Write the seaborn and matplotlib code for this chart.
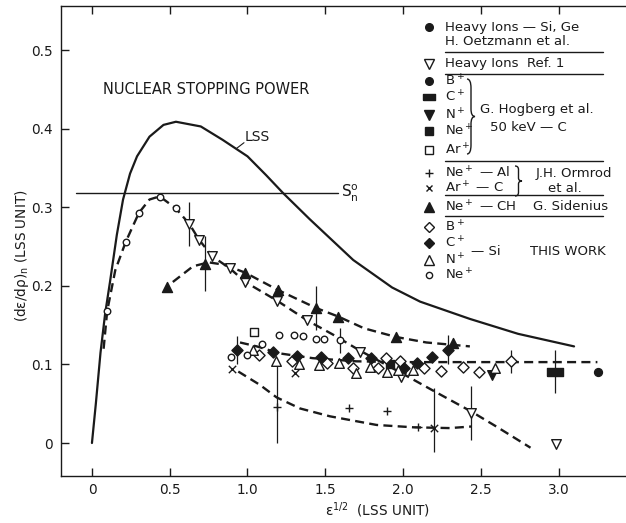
import numpy as np
import pandas as pd
import matplotlib
matplotlib.use("Agg")
import matplotlib.pyplot as plt
import seaborn as sns
from matplotlib.path import Path
from matplotlib.patches import PathPatch

# ---------------- data ----------------
# LSS theoretical nuclear stopping curve
lss_x = [0, 0.025, 0.055, 0.085, 0.116, 0.16, 0.2, 0.245, 0.29, 0.37, 0.46, 0.54, 0.70, 0.84,
         1.0, 1.12, 1.23, 1.40, 1.68, 1.93, 2.11, 2.43, 2.74, 3.10]
lss_y = [0, 0.05, 0.115, 0.165, 0.205, 0.265, 0.31, 0.343, 0.365, 0.39, 0.405, 0.409, 0.403, 0.386,
         0.365, 0.341, 0.318, 0.285, 0.233, 0.198, 0.18, 0.158, 0.139, 0.123]
sn0_value = 0.318
sn0_x = [-0.10, 1.58]

# dashed guide curves
guide1_x = [0.075, 0.098, 0.15, 0.217, 0.302, 0.37, 0.435, 0.538, 0.626, 0.688, 0.772, 0.889, 0.986,
            1.192, 1.385, 1.55, 1.72, 1.85, 2.0, 2.2, 2.44, 2.6, 2.82]
guide1_y = [0.12, 0.168, 0.22, 0.256, 0.293, 0.31, 0.314, 0.299, 0.279, 0.259, 0.238, 0.222, 0.205,
            0.181, 0.156, 0.138, 0.118, 0.104, 0.088, 0.066, 0.04, 0.021, -0.006]
guide2_x = [0.52, 0.65, 0.75, 0.85, 0.984, 1.194, 1.44, 1.584, 1.75, 1.955, 2.15, 2.43]
guide2_y = [0.205, 0.225, 0.23, 0.227, 0.217, 0.195, 0.172, 0.161, 0.146, 0.135, 0.128, 0.123]
guide3_x = [0.952, 1.06, 1.21, 1.42, 1.7, 2.0, 3.25]
guide3_y = [0.128, 0.123, 0.114, 0.108, 0.104, 0.103, 0.103]
guide4_x = [0.941, 1.08, 1.188, 1.338, 1.53, 1.83, 2.066, 2.30, 2.44]
guide4_y = [0.091, 0.074, 0.058, 0.044, 0.034, 0.023, 0.020, 0.019, 0.021]

# Heavy ions Si, Ge (Oetzmann et al.)
oetz_x = [3.252]
oetz_y = [0.090]
# Heavy ions Ref. 1
ref1_x = [0.626, 0.688, 0.772, 0.889, 0.986, 1.192, 1.385, 1.723, 1.985, 2.435, 2.982]
ref1_y = [0.279, 0.259, 0.238, 0.223, 0.205, 0.181, 0.156, 0.116, 0.084, 0.038, -0.001]
ref1_err = [0.028, 0, 0, 0, 0, 0, 0, 0, 0, 0.034, 0]
# Hogberg et al. 50 keV - C
hog_c_x, hog_c_y, hog_c_err = [2.977], [0.091], [0.027]
hog_n_x, hog_n_y = [2.574], [0.087]
hog_ne_x, hog_ne_y = [1.916], [0.101]
hog_ar_x, hog_ar_y = [1.044], [0.141]
# Ormrod et al.
orm_ne_x = [1.19, 1.655, 1.899, 2.099]
orm_ne_y = [0.046, 0.044, 0.041, 0.020]
orm_ne_err_lo = [0.046, 0, 0, 0]
orm_ne_err_hi = [0.054, 0, 0, 0]
orm_ar_x = [0.898, 1.305, 2.199]
orm_ar_y = [0.094, 0.089, 0.019]
orm_ar_err_lo = [0, 0, 0.030]
orm_ar_err_hi = [0, 0, 0.051]
# Sidenius Ne+ - CH
sid_x = [0.484, 0.727, 0.984, 1.194, 1.440, 1.584, 1.955, 2.324]
sid_y = [0.198, 0.228, 0.217, 0.195, 0.172, 0.161, 0.135, 0.127]
sid_err = [0, 0.035, 0, 0, 0.028, 0, 0, 0]
# This work (Si)
tw_b_x = [1.072, 1.288, 1.509, 1.677, 1.842, 1.889, 1.981, 2.135, 2.244, 2.388, 2.491, 2.695]
tw_b_y = [0.112, 0.104, 0.102, 0.096, 0.095, 0.108, 0.104, 0.096, 0.092, 0.097, 0.091, 0.104]
tw_b_err = [0, 0, 0, 0, 0, 0, 0, 0, 0, 0, 0, 0.015]
tw_c_x = [0.934, 1.162, 1.320, 1.475, 1.644, 1.792, 2.006, 2.088, 2.185, 2.291]
tw_c_y = [0.118, 0.116, 0.111, 0.110, 0.108, 0.108, 0.096, 0.102, 0.109, 0.119]
tw_c_err = [0.018, 0, 0, 0, 0, 0, 0, 0, 0, 0.018]
tw_n_x = [1.037, 1.183, 1.333, 1.460, 1.588, 1.695, 1.786, 1.895, 1.967, 2.066, 2.592]
tw_n_y = [0.118, 0.104, 0.101, 0.099, 0.102, 0.089, 0.097, 0.091, 0.093, 0.093, 0.096]
tw_ne_x = [0.098, 0.217, 0.302, 0.435, 0.538, 0.896, 0.995, 1.093, 1.201, 1.299, 1.359, 1.441, 1.492, 1.593]
tw_ne_y = [0.168, 0.256, 0.293, 0.313, 0.299, 0.109, 0.112, 0.126, 0.137, 0.138, 0.136, 0.132, 0.132, 0.131]
tw_ne_err = [0, 0, 0, 0, 0, 0, 0, 0, 0, 0, 0, 0, 0, 0.016]

x_ticks = [0, 0.5, 1.0, 1.5, 2.0, 2.5, 3.0]
x_tick_labels = ["0", "0.5", "1.0", "1.5", "2.0", "2.5", "3.0"]
y_ticks = [0, 0.1, 0.2, 0.3, 0.4, 0.5]
y_tick_labels = ["0", "0.1", "0.2", "0.3", "0.4", "0.5"]

# ---------------- figure ----------------
sns.set_style("ticks")
plt.rcParams["font.family"] = ["DejaVu Sans"]
plt.rcParams["lines.scale_dashes"] = False
INK = "#1a1a1a"

W, H = 626, 523
fig = plt.figure(figsize=(W / 100, H / 100), dpi=100)
fig.patch.set_facecolor("white")
L, R, T, B = 61, 626, 5.5, 476
ax = fig.add_axes([L / W, 1 - B / H, (R - L) / W, (B - T) / H])
ax.set_xlim(-0.199, 3.434)
ax.set_ylim(-0.042, 0.557)

def P(x, y):
    return (x / W, 1 - y / H)

DASH = (0, (6.5, 3.8))

# curves
sns.lineplot(x=lss_x, y=lss_y, ax=ax, sort=False, estimator=None, color=INK, linewidth=1.6)
sns.lineplot(x=sn0_x, y=[sn0_value, sn0_value], ax=ax, sort=False, estimator=None, color=INK, linewidth=1.0)
for gx, gy in [(guide1_x, guide1_y), (guide2_x, guide2_y), (guide3_x, guide3_y), (guide4_x, guide4_y)]:
    sns.lineplot(x=gx, y=gy, ax=ax, sort=False, estimator=None, color=INK, linewidth=1.7, linestyle=DASH)

# error bars
def ebars(xs, ys, lo, hi=None):
    hi = lo if hi is None else hi
    for x, y, a, b in zip(xs, ys, lo, hi):
        if a > 0 or b > 0:
            ax.errorbar([x], [y], yerr=[[a], [b]], fmt="none", ecolor=INK, elinewidth=0.9, capsize=0, zorder=2)

ebars(ref1_x, ref1_y, ref1_err)
ebars(hog_c_x, hog_c_y, hog_c_err)
ebars(orm_ne_x, orm_ne_y, orm_ne_err_lo, orm_ne_err_hi)
ebars(orm_ar_x, orm_ar_y, orm_ar_err_lo, orm_ar_err_hi)
ebars(sid_x, sid_y, sid_err)
ebars(tw_b_x, tw_b_y, tw_b_err)
ebars(tw_c_x, tw_c_y, tw_c_err)
ebars(tw_ne_x, tw_ne_y, tw_ne_err)

RECT = [(-1, -0.5), (1, -0.5), (1, 0.5), (-1, 0.5), (-1, -0.5)]

def pts(xs, ys, marker, s, filled, lw=1.0):
    if marker in ("+", "x"):
        sns.scatterplot(x=xs, y=ys, ax=ax, marker=marker, s=s, color=INK, linewidth=lw, zorder=4)
    else:
        sns.scatterplot(x=xs, y=ys, ax=ax, marker=marker, s=s,
                        color=INK if filled else "white", edgecolor=INK, linewidth=lw, zorder=4)

pts(oetz_x, oetz_y, "o", 32, True)
pts(ref1_x, ref1_y, "v", 48, False)
pts(hog_c_x, hog_c_y, RECT, 130, True)
pts(hog_n_x, hog_n_y, "v", 48, True)
pts(hog_ne_x, hog_ne_y, "s", 34, True)
pts(hog_ar_x, hog_ar_y, "s", 34, False)
pts(orm_ne_x, orm_ne_y, "+", 36, False)
pts(orm_ar_x, orm_ar_y, "x", 28, False)
pts(sid_x, sid_y, "^", 52, True)
pts(tw_b_x, tw_b_y, "D", 32, False)
pts(tw_c_x, tw_c_y, "D", 32, True)
pts(tw_n_x, tw_n_y, "^", 48, False)
pts(tw_ne_x, tw_ne_y, "o", 22, False)

# axes styling
ax.set_xticks(x_ticks)
ax.set_xticklabels(x_tick_labels)
ax.set_yticks(y_ticks)
ax.set_yticklabels(y_tick_labels)
ax.tick_params(axis="x", direction="in", top=True, bottom=True, length=6, width=1.0,
               color=INK, labelsize=9.8, labelcolor=INK, pad=5)
ax.tick_params(axis="y", direction="in", left=True, right=False, length=5.5, width=1.0,
               color=INK, labelsize=9.8, labelcolor=INK, pad=6)
for side in ["left", "bottom", "top"]:
    ax.spines[side].set_linewidth(1.0)
    ax.spines[side].set_color(INK)
ax.spines["right"].set_visible(False)
ax.set_xlabel("")
ax.set_ylabel("")

# axis labels
fig.text(*P(22, 256), "(dɛ/dρ)$_\\mathregular{n}$ (LSS UNIT)", rotation=90, ha="center", va="center",
         fontsize=9.8, color=INK)
fig.text(*P(377, 510), "ɛ$^\\mathregular{1/2}$  (LSS UNIT)", ha="center", va="center", fontsize=9.8, color=INK)

# annotations
fig.text(*P(103, 90), "NUCLEAR STOPPING POWER", ha="left", va="center", fontsize=10.5, color=INK)
fig.text(*P(245, 137), "LSS", ha="left", va="center", fontsize=10, color=INK)
fig.add_artist(plt.Line2D([236.7 / W, 244 / W], [1 - 148.3 / H, 1 - 142.7 / H], color=INK, lw=0.8))
fig.text(*P(341, 193), "S$^\\mathregular{o}_\\mathregular{n}$", ha="left", va="center", fontsize=11, color=INK)

# legend (drawn as part of the figure)
def mk(x, y, marker, ms, filled, lw=1.0):
    fx, fy = P(x, y)
    ax.plot([fx], [fy], marker=marker, ms=ms, transform=fig.transFigure, clip_on=False,
            color=INK, mfc=INK if filled else "white", mec=INK, mew=lw, linestyle="none")

def tx(x, y, s, size=9.5):
    fig.text(*P(x, y), s, ha="left", va="center", fontsize=size, color=INK)

def hline(y, x0=445, x1=603):
    fig.add_artist(plt.Line2D([x0 / W, x1 / W], [1 - y / H, 1 - y / H], color=INK, lw=1.0))

def brace(x, y0, y1, w):
    ym = (y0 + y1) / 2
    h = y1 - y0
    q = w / 2
    verts = [(x, y0), (x + q, y0), (x + q, y0 + 0.12 * h),
             (x + q, ym - 0.1 * h), (x + q, ym), (x + w, ym),
             (x + q, ym), (x + q, ym + 0.1 * h),
             (x + q, y1 - 0.12 * h), (x + q, y1), (x, y1)]
    codes = [Path.MOVETO, Path.CURVE3, Path.CURVE3,
             Path.LINETO, Path.CURVE3, Path.CURVE3,
             Path.CURVE3, Path.CURVE3,
             Path.LINETO, Path.CURVE3, Path.CURVE3]
    fverts = [P(vx, vy) for vx, vy in verts]
    patch = PathPatch(Path(fverts, codes), transform=fig.transFigure, fill=False, ec=INK, lw=1.0)
    fig.add_artist(patch)

MX = 429
mk(MX, 27.3, "o", 5.5, True)
tx(445, 27.3, "Heavy Ions — Si, Ge")
tx(445, 41.7, "H. Oetzmann et al.")
hline(51.7)
mk(MX, 64, "v", 6.5, False)
tx(445, 64, "Heavy Ions  Ref. 1")
hline(74)
mk(MX, 81, "o", 5.5, True)
tx(445, 81, "B$^+$")
mk(MX, 96.7, RECT, 9, True)
tx(445, 96.7, "C$^+$")
mk(MX, 115, "v", 6.5, True)
tx(445, 115, "N$^+$")
mk(MX, 131, "s", 5.5, True)
tx(445, 131, "Ne$^+$")
mk(MX, 150, "s", 5.5, False)
tx(445, 150, "Ar$^+$")
brace(467, 79, 154, 8)
tx(480, 109.3, "G. Hogberg et al.")
tx(490, 127.7, "50 keV — C")
hline(160.7)
mk(MX, 173.3, "+", 6, False)
tx(445, 173.3, "Ne$^+$ — Al")
mk(MX, 188.3, "x", 5, False)
tx(445, 188.3, "Ar$^+$ — C")
brace(515, 166, 196, 7)
tx(536, 173.3, "J.H. Ormrod")
tx(548, 188.3, "et al.")
hline(195)
mk(MX, 207, "^", 7, True)
tx(445, 207, "Ne$^+$ — CH")
tx(533, 207, "G. Sidenius")
hline(216)
mk(MX, 226.7, "D", 5.5, False)
tx(445, 226.7, "B$^+$")
mk(MX, 243.3, "D", 5.5, True)
tx(445, 243.3, "C$^+$")
mk(MX, 260, "^", 6.5, False)
tx(445, 260, "N$^+$")
mk(MX, 275, "o", 4.5, False)
tx(445, 275, "Ne$^+$")
tx(471, 251.7, "— Si")
tx(530, 251.7, "THIS WORK")

fig.savefig("out.png", dpi=100, facecolor="white")
